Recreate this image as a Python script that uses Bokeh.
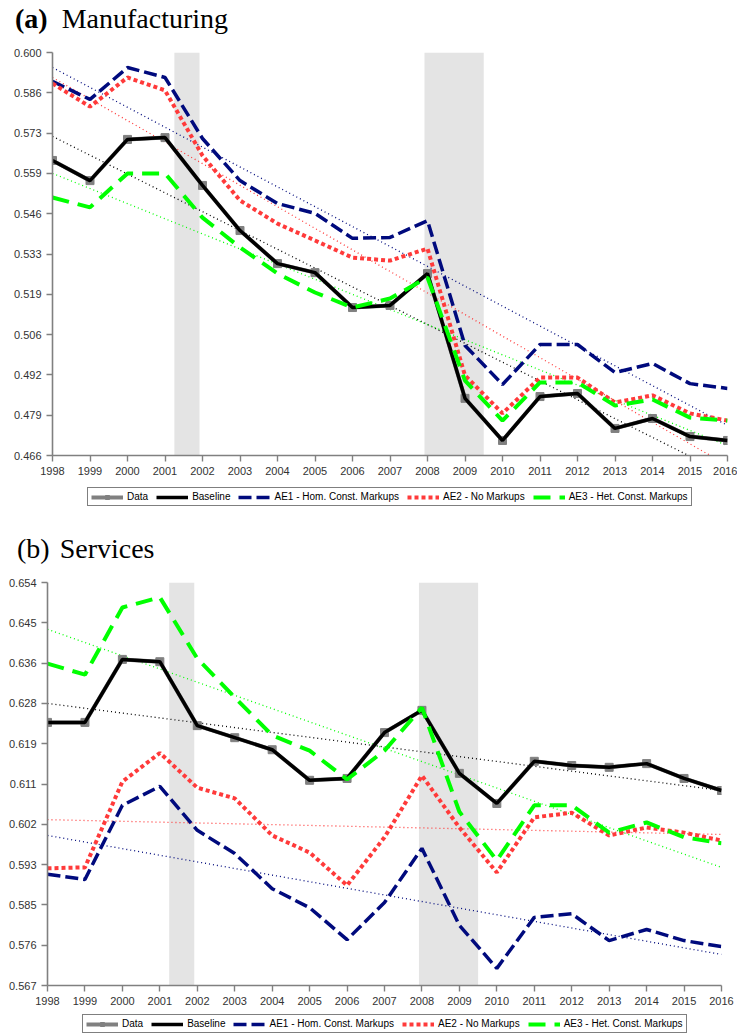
from bokeh.plotting import figure
from bokeh.models import (Range1d, FixedTicker, CustomJSTickFormatter, BoxAnnotation,
                          Legend, LegendItem, Div)
from bokeh.layouts import column
from bokeh.embed import file_html
from bokeh.resources import INLINE
import numpy as np

years = list(range(1998, 2017))

# recession shading (years)
recession_starts = [2001.25, 2007.92]
recession_ends = [2001.92, 2009.5]

# ---------------- (a) Manufacturing ----------------
mfg_data = [0.5641, 0.5574, 0.5711, 0.5717, 0.5558, 0.5408, 0.5298, 0.5268, 0.5152, 0.5159,
            0.5265, 0.4850, 0.4710, 0.4856, 0.4866, 0.4750, 0.4783, 0.4723, 0.4710]
mfg_baseline = [0.5641, 0.5574, 0.5711, 0.5717, 0.5558, 0.5408, 0.5298, 0.5268, 0.5152, 0.5159,
                0.5265, 0.4850, 0.4710, 0.4856, 0.4866, 0.4750, 0.4783, 0.4723, 0.4710]
mfg_ae1 = [0.5904, 0.5844, 0.5950, 0.5917, 0.5714, 0.5574, 0.5498, 0.5465, 0.5382, 0.5385,
           0.5441, 0.5026, 0.4896, 0.5029, 0.5029, 0.4936, 0.4966, 0.4899, 0.4883]
mfg_ae2 = [0.5897, 0.5820, 0.5917, 0.5874, 0.5657, 0.5508, 0.5431, 0.5375, 0.5318, 0.5308,
           0.5348, 0.4926, 0.4800, 0.4919, 0.4919, 0.4836, 0.4860, 0.4800, 0.4776]
mfg_ae3 = [0.5518, 0.5485, 0.5598, 0.5598, 0.5451, 0.5352, 0.5265, 0.5202, 0.5152, 0.5182,
           0.5252, 0.4909, 0.4776, 0.4903, 0.4903, 0.4826, 0.4846, 0.4786, 0.4776]
# linear trend lines: value in 1998 and in 2016
mfg_trend_baseline = [0.5721, 0.4595]
mfg_trend_ae1 = [0.5950, 0.4760]
mfg_trend_ae2 = [0.5917, 0.4627]
mfg_trend_ae3 = [0.5598, 0.4693]
mfg_yrange = [0.466, 0.600]
mfg_ytick_labels = ["0.466", "0.479", "0.492", "0.506", "0.519", "0.533",
                    "0.546", "0.559", "0.573", "0.586", "0.600"]

# ---------------- (b) Services ----------------
svc_data = [0.6238, 0.6238, 0.6374, 0.6369, 0.6231, 0.6205, 0.6179, 0.6113, 0.6117, 0.6216,
            0.6264, 0.6128, 0.6063, 0.6154, 0.6145, 0.6141, 0.6149, 0.6117, 0.6091]
svc_baseline = [0.6238, 0.6238, 0.6374, 0.6369, 0.6231, 0.6205, 0.6179, 0.6113, 0.6117, 0.6216,
                0.6264, 0.6128, 0.6063, 0.6154, 0.6145, 0.6141, 0.6149, 0.6117, 0.6091]
svc_ae1 = [0.5910, 0.5899, 0.6059, 0.6100, 0.6005, 0.5955, 0.5879, 0.5838, 0.5769, 0.5849,
           0.5966, 0.5800, 0.5707, 0.5817, 0.5825, 0.5767, 0.5791, 0.5767, 0.5754]
svc_ae2 = [0.5923, 0.5925, 0.6110, 0.6172, 0.6097, 0.6074, 0.5994, 0.5957, 0.5886, 0.5990,
           0.6123, 0.6011, 0.5914, 0.6033, 0.6043, 0.5994, 0.6011, 0.6000, 0.5983]
svc_ae3 = [0.6365, 0.6341, 0.6486, 0.6508, 0.6376, 0.6292, 0.6210, 0.6177, 0.6115, 0.6177,
           0.6270, 0.6045, 0.5940, 0.6059, 0.6059, 0.6000, 0.6022, 0.5990, 0.5977]
svc_trend_baseline = [0.6279, 0.6091]
svc_trend_ae1 = [0.5994, 0.5737]
svc_trend_ae2 = [0.6028, 0.5996]
svc_trend_ae3 = [0.6439, 0.5925]
svc_yrange = [0.567, 0.654]
svc_ytick_labels = ["0.567", "0.576", "0.585", "0.593", "0.602", "0.611",
                    "0.619", "0.628", "0.636", "0.645", "0.654"]

series_labels = ["Data", "Baseline", "AE1 - Hom. Const. Markups", "AE2 - No Markups",
                 "AE3 - Het. Const. Markups"]

C_GRAY = "#808080"
C_BLACK = "#000000"
C_NAVY = "#000a7d"
C_RED = "#ff3a3a"
C_GREEN = "#00ff00"


def make_title(tag, tag_bold, name, left_pad, gap):
    weight = "bold" if tag_bold else "normal"
    html = ('<div style="font-family:\'Liberation Serif\',serif;font-size:28px;line-height:1;'
            'color:black;padding:5px 0 0 %dpx;white-space:nowrap;">'
            '<span style="font-weight:%s">%s</span>'
            '<span style="margin-left:%dpx">%s</span></div>') % (left_pad, weight, tag, gap, name)
    return Div(text=html, width=737, height=44, margin=(0, 0, 0, 0))


def draw_series(p, data, baseline, ae1, ae2, ae3):
    r_data_l = p.line(years, data, line_color=C_GRAY, line_width=4)
    r_data_m = p.scatter(years, data, marker="square", size=8, color=C_GRAY)
    r_base = p.line(years, baseline, line_color=C_BLACK, line_width=3.5)
    r_ae1 = p.line(years, ae1, line_color=C_NAVY, line_width=3.5, line_dash="13 5")
    r_ae2 = p.line(years, ae2, line_color=C_RED, line_width=4, line_dash="4 3")
    r_ae3 = p.line(years, ae3, line_color=C_GREEN, line_width=4, line_dash="17 9")
    return [[r_data_l, r_data_m], [r_base], [r_ae1], [r_ae2], [r_ae3]]


def make_panel(width, height, borders, yrange, ytick_labels, data, baseline, ae1, ae2, ae3,
               trends):
    bl, br, bt, bb = borders
    p = figure(width=width, height=height, output_backend="svg", toolbar_location=None,
               x_range=Range1d(years[0], years[-1]), y_range=Range1d(yrange[0], yrange[1]),
               min_border_left=bl, min_border_right=br, min_border_top=bt, min_border_bottom=bb,
               margin=(0, 0, 0, 0), frame_align=False)
    p.outline_line_color = None
    p.xgrid.visible = False
    p.ygrid.visible = False
    p.background_fill_color = "white"

    for s, e in zip(recession_starts, recession_ends):
        p.add_layout(BoxAnnotation(left=s, right=e, fill_color="#e4e4e4", fill_alpha=1,
                                   line_color=None, level="underlay"))

    # trend lines
    t_colors = [C_BLACK, C_NAVY, C_RED, C_GREEN]
    for tr, c in zip(trends, t_colors):
        p.line([years[0], years[-1]], tr, line_color=c, line_width=1.3, line_dash="1 3")

    draw_series(p, data, baseline, ae1, ae2, ae3)

    ticks = list(np.linspace(yrange[0], yrange[1], len(ytick_labels)))
    p.yaxis.ticker = FixedTicker(ticks=ticks)
    p.yaxis.formatter = CustomJSTickFormatter(args=dict(labels=ytick_labels),
                                              code="return labels[index];")
    p.xaxis.ticker = FixedTicker(ticks=years)
    p.xaxis.formatter = CustomJSTickFormatter(code="return String(Math.round(tick));")
    for ax in (p.xaxis[0], p.yaxis[0]):
        ax.axis_line_color = C_GRAY
        ax.axis_line_width = 1.6
        ax.major_tick_line_color = C_GRAY
        ax.major_tick_line_width = 1.4
        ax.major_tick_out = 6
        ax.major_tick_in = 0
        ax.minor_tick_line_color = None
        ax.major_label_text_font = "Liberation Sans"
        ax.major_label_text_font_size = "11px"
        ax.major_label_text_color = "#333333"
        ax.major_label_standoff = 5
    return p


def make_legend_strip(height, loc, data, baseline, ae1, ae2, ae3):
    # the series are drawn outside of this strip's visible y range; only the legend shows
    p = figure(width=737, height=height, output_backend="svg", toolbar_location=None,
               x_range=Range1d(years[0], years[-1]), y_range=Range1d(10, 11),
               x_axis_type=None, y_axis_type=None, min_border=0, margin=(0, 0, 0, 0),
               frame_align=False)
    p.outline_line_color = None
    p.xgrid.visible = False
    p.ygrid.visible = False
    rends = draw_series(p, data, baseline, ae1, ae2, ae3)
    items = [LegendItem(label=lab, renderers=r) for lab, r in zip(series_labels, rends)]
    leg = Legend(items=items, orientation="horizontal", location=loc,
                 border_line_color="black", border_line_width=1, padding=3, spacing=8,
                 label_standoff=4, glyph_width=32, glyph_height=10, label_height=10,
                 label_text_font="Liberation Sans", label_text_font_size="10px",
                 label_text_color="black", margin=0, background_fill_alpha=1)
    p.add_layout(leg)
    return p


t1 = make_title("(a)", True, "Manufacturing", 15, 14)
p1 = make_panel(737, 441, (52, 10, 8, 30), mfg_yrange, mfg_ytick_labels,
                mfg_data, mfg_baseline, mfg_ae1, mfg_ae2, mfg_ae3,
                [mfg_trend_baseline, mfg_trend_ae1, mfg_trend_ae2, mfg_trend_ae3])
l1 = make_legend_strip(45, (87, 24), mfg_data, mfg_baseline, mfg_ae1, mfg_ae2, mfg_ae3)
t2 = make_title("(b)", False, "Services", 17, 10)
p2 = make_panel(737, 436, (47, 16, 8, 25), svc_yrange, svc_ytick_labels,
                svc_data, svc_baseline, svc_ae1, svc_ae2, svc_ae3,
                [svc_trend_baseline, svc_trend_ae1, svc_trend_ae2, svc_trend_ae3])
l2 = make_legend_strip(24, (82, 1), svc_data, svc_baseline, svc_ae1, svc_ae2, svc_ae3)

layout = column(t1, p1, l1, t2, p2, l2, spacing=0)
open("out.html", "w").write(file_html(layout, INLINE))
